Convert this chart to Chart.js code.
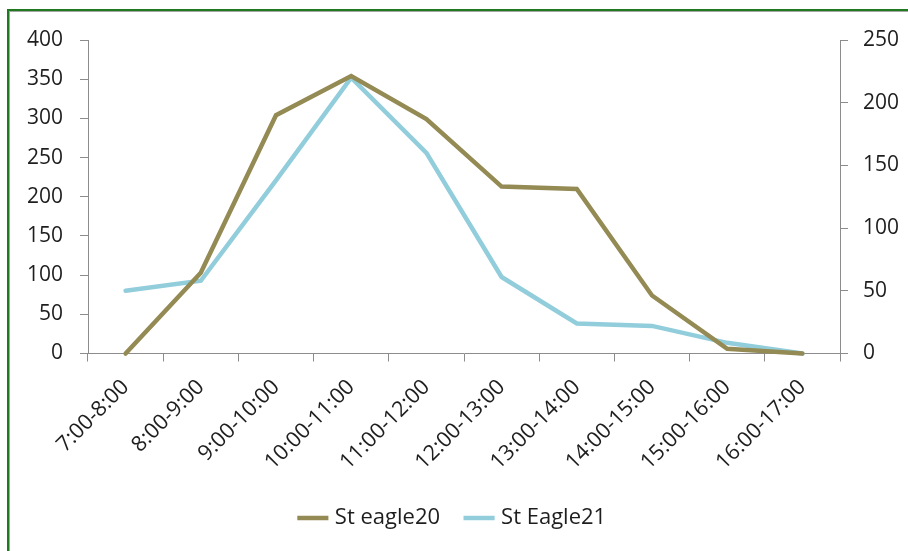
<!DOCTYPE html>
<html>
<head>
<meta charset="utf-8">
<script src="https://cdn.jsdelivr.net/npm/chart.js@4/dist/chart.umd.min.js"></script>
<style>
  html, body { margin: 0; padding: 0; background: #ffffff; overflow: hidden; }
  #wrap { position: relative; width: 908px; height: 551px; }
  canvas { position: absolute; left: 0; top: 0; }
  /* green frame around the chart (only left and top edges fall inside the view) */
  #frame {
    position: absolute; left: 7px; top: 9px; width: 940px; height: 600px;
    border-left: 2px solid #1F7A1F; border-top: 2px solid #1F7A1F;
    box-shadow: inset 1px 1px 0 #A6A6A6;
    pointer-events: none;
  }
</style>
</head>
<body>
<div id="wrap">
  <canvas id="chart" width="908" height="551"></canvas>
  <div id="frame"></div>
</div>
<script>
// hourly time slots
const timeSlots = ['7:00-8:00', '8:00-9:00', '9:00-10:00', '10:00-11:00', '11:00-12:00',
                   '12:00-13:00', '13:00-14:00', '14:00-15:00', '15:00-16:00', '16:00-17:00'];

// counts per slot (left axis)
const stEagle20 = [0, 103, 304, 354, 299, 213, 210, 74, 6, 0];

// counts per slot (right axis)
const stEagle21 = [50, 58, 138, 220, 160, 61, 24, 22, 8.5, 0];

// axis ranges
const leftAxis = { min: 0, max: 400, step: 50 };
const rightAxis = { min: 0, max: 250, step: 50 };

const tickFont = { family: '"Open Sans", sans-serif', size: 21 };
const axisGrey = '#8C8C8C';
const textColor = '#1E1E1E';

new Chart(document.getElementById('chart'), {
  type: 'line',
  data: {
    labels: timeSlots,
    datasets: [
      {
        label: 'St eagle20',
        data: stEagle20,
        yAxisID: 'y',
        borderColor: '#948A54',
        backgroundColor: '#948A54',
        borderWidth: 4.5,
        borderCapStyle: 'round',
        pointRadius: 0,
        tension: 0,
        clip: false
      },
      {
        label: 'St Eagle21',
        data: stEagle21,
        yAxisID: 'y1',
        borderColor: '#92CDDC',
        backgroundColor: '#92CDDC',
        borderWidth: 4.5,
        borderCapStyle: 'round',
        pointRadius: 0,
        tension: 0,
        clip: false
      }
    ]
  },
  options: {
    responsive: false,
    animation: false,
    layout: { padding: { top: 40, left: 0, right: 0, bottom: 12 } },
    plugins: {
      tooltip: { enabled: false },
      legend: {
        position: 'bottom',
        labels: {
          usePointStyle: true,
          pointStyle: 'line',
          boxWidth: 50,
          padding: 28,
          color: textColor,
          font: { family: '"Open Sans", sans-serif', size: 22 }
        }
      }
    },
    scales: {
      x: {
        offset: true,
        grid: { offset: true, drawOnChartArea: false, drawTicks: true, tickLength: 8, color: axisGrey },
        border: { display: true, color: axisGrey, width: 1 },
        ticks: {
          autoSkip: false, maxRotation: 45, minRotation: 45, padding: 13,
          color: textColor, font: { family: '"Open Sans", sans-serif', size: 21.5 }
        },
        afterFit: (scale) => { scale.height = 125.5; }
      },
      y: {
        position: 'left',
        min: leftAxis.min, max: leftAxis.max,
        grid: { drawOnChartArea: false, drawTicks: true, tickLength: 8, color: axisGrey },
        border: { display: true, color: axisGrey, width: 1 },
        ticks: { stepSize: leftAxis.step, padding: 17, color: textColor, font: tickFont },
        afterFit: (scale) => { scale.width = 88; }
      },
      y1: {
        position: 'right',
        min: rightAxis.min, max: rightAxis.max,
        grid: { drawOnChartArea: false, drawTicks: true, tickLength: 8, color: axisGrey },
        border: { display: true, color: axisGrey, width: 1 },
        ticks: { stepSize: rightAxis.step, padding: 15, color: textColor, font: tickFont },
        afterFit: (scale) => { scale.width = 68; }
      }
    }
  }
});
</script>
</body>
</html>
